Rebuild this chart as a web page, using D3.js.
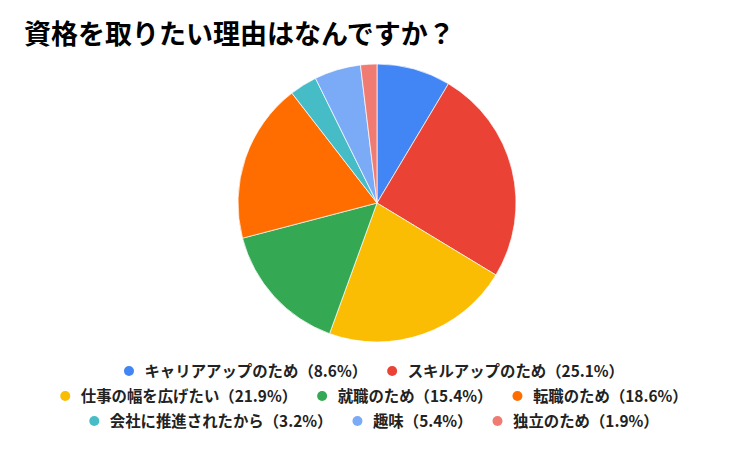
<!DOCTYPE html>
<html><head><meta charset="utf-8">
<script src="https://cdn.jsdelivr.net/npm/d3@7"></script>
<style>
html,body{margin:0;padding:0;background:#fff;}
svg{display:block;font-family:"Noto Sans CJK JP","Noto Sans",sans-serif;}
</style></head>
<body>
<svg id="chart" width="748" height="462"></svg>
<script>
const title = "資格を取りたい理由はなんですか？";
const categories = ["キャリアアップのため","スキルアップのため","仕事の幅を広げたい","就職のため","転職のため","会社に推進されたから","趣味","独立のため"];
const values = [8.6, 25.1, 21.9, 15.4, 18.6, 3.2, 5.4, 1.9];
const colors = ["#4285f4","#ea4335","#fbbc04","#34a853","#ff6d01","#46bdc6","#7baaf7","#f07b72"];

const W = 748, H = 462;
const svg = d3.select("#chart");
svg.append("rect").attr("width",W).attr("height",H).attr("fill","#fff");

svg.append("text").attr("x",24).attr("y",44)
  .attr("font-size",27).attr("font-weight",700).attr("fill","#000")
  .text(title);

const cx = 377, cy = 203, r = 139;
const pie = d3.pie().sort(null).value(d=>d.v);
const arc = d3.arc().innerRadius(0).outerRadius(r);
const data = categories.map((c,i)=>({c, v:values[i], col:colors[i]}));
svg.append("g").attr("transform",`translate(${cx},${cy})`)
  .selectAll("path").data(pie(data)).join("path")
  .attr("d",arc).attr("fill",d=>d.data.col)
  .attr("stroke","#fff").attr("stroke-width",0.7);

// legend
const fs = 15.4;
const items = data.map(d=>({label:`${d.c}（${d.v}%）`, col:d.col}));
const tmp = svg.append("text").attr("font-size",fs).attr("font-weight",700);
items.forEach(it=>{ tmp.text(it.label); it.tw = tmp.node().getComputedTextLength(); it.w = 20.5 + it.tw; });
tmp.remove();
const gap = 20, maxW = 660;
const rows = []; let cur = [], cw = 0;
items.forEach(it=>{
  const add = (cur.length? gap:0) + it.w;
  if (cur.length && cw + add > maxW) { rows.push(cur); cur=[]; cw=0; }
  cw += (cur.length? gap:0) + it.w; cur.push(it);
});
if (cur.length) rows.push(cur);
const rowY = [371, 396, 421];
const lg = svg.append("g");
rows.forEach((row,ri)=>{
  const total = row.reduce((s,it)=>s+it.w,0) + gap*(row.length-1);
  let x = W/2 - total/2;
  row.forEach(it=>{
    lg.append("circle").attr("cx",x+5).attr("cy",rowY[ri]).attr("r",5).attr("fill",it.col);
    lg.append("text").attr("x",x+20.5).attr("y",rowY[ri]).attr("dy","0.36em")
      .attr("font-size",fs).attr("font-weight",700).attr("fill","#222").text(it.label);
    x += it.w + gap;
  });
});
</script>
</body></html>
